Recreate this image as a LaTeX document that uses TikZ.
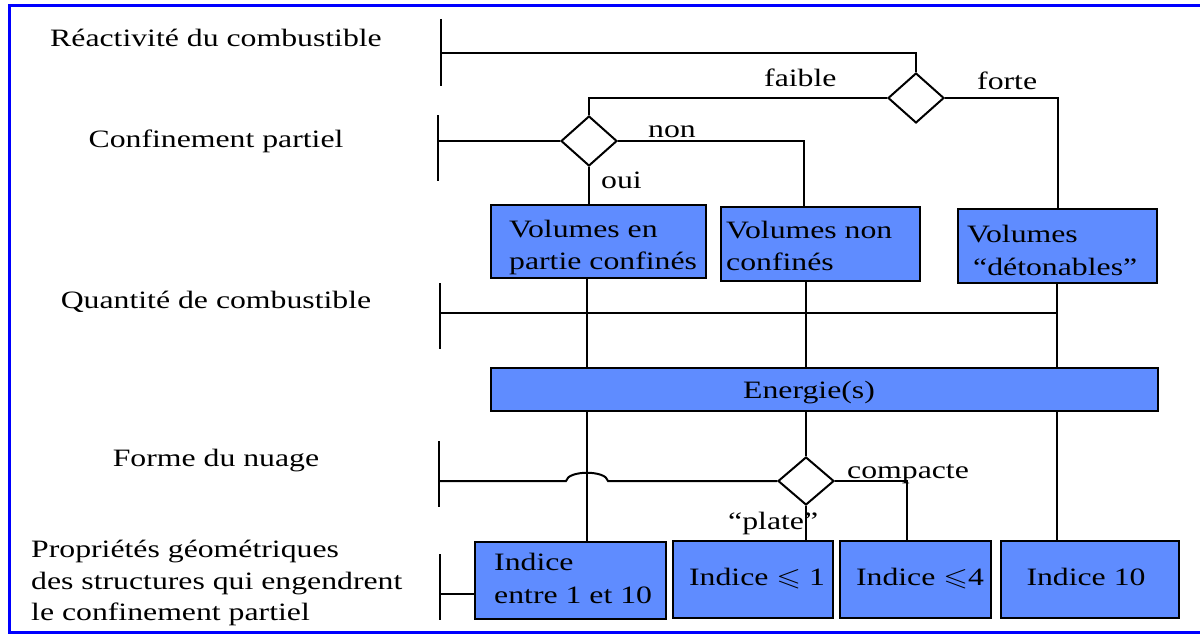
\documentclass[tikz,border=0pt]{standalone}
\usepackage{amssymb}
\usepackage{graphicx}
\usepackage{fontspec}
\setmainfont{Liberation Serif}
\usetikzlibrary{shapes.geometric}
\definecolor{boxblue}{RGB}{95,140,255}
\definecolor{frameblue}{RGB}{0,0,255}
% text set a little wider than the font's natural width
\newcommand{\wtxt}[1]{\scalebox{1.27}[1]{#1}}

\begin{document}
\begin{tikzpicture}[x=1pt,y=-1pt,
  txt/.style={inner sep=0pt, font=\fontsize{25}{32}\selectfont},
  lt/.style={txt, anchor=base west},
  ct/.style={txt, anchor=base},
  box/.style={draw, line width=2.2pt, fill=boxblue, inner sep=0pt},
  choice/.style={diamond, draw, line width=2pt, fill=white, inner sep=0pt,
                 minimum width=56pt, minimum height=50pt},
  link/.style={line width=2pt},
  tick/.style={line width=2pt}]
\useasboundingbox (0,0) rectangle (1200,634);

% outer frame
\draw[frameblue, line width=3pt] (1210,6) -- (9,6) -- (9,632) -- (1210,632);

% row headings
\node[ct] (hR) at (216,47)  {\wtxt{Réactivité du combustible}};
\node[ct] (hC) at (216,147) {\wtxt{Confinement partiel}};
\node[ct] (hQ) at (216,308) {\wtxt{Quantité de combustible}};
\node[ct] (hF) at (216,466) {\wtxt{Forme du nuage}};
\node[lt] (hP1) at (31,557) {\wtxt{Propriétés géométriques}};
\node[lt] (hP2) at (31,589) {\wtxt{des structures qui engendrent}};
\node[lt] (hP3) at (31,620) {\wtxt{le confinement partiel}};

% row bars
\draw[tick] (441,19) -- (441,86);
\draw[tick] (438,115) -- (438,181);
\draw[tick] (440,283) -- (440,349);
\draw[tick] (439,441) -- (439,507);
\draw[tick] (440,554) -- (440,620);
\coordinate (r0) at (441,53);
\coordinate (c0) at (438,141);
\coordinate (q0) at (440,313);
\coordinate (f0) at (439,481);
\coordinate (p0) at (440,594);

% trunk columns
\coordinate (qA) at (587,313);
\coordinate (qB) at (806,313);
\coordinate (qC) at (1057,313);

% decisions
\node[choice] (d1) at (916,98) {};
\node[choice] (d2) at (589,141) {};
\node[choice, minimum height=48pt] (d3) at (806,481) {};

% boxes
\node[box, minimum width=215pt, minimum height=73pt] (vp) at (598.5,241.5) {};
\node[box, minimum width=199pt, minimum height=74pt] (vn) at (820.5,244) {};
\node[box, minimum width=199pt, minimum height=74pt] (vd) at (1057.5,246) {};
\node[box, minimum width=667pt, minimum height=43pt] (en) at (824.5,389.5) {};
\node[box, minimum width=191pt, minimum height=77pt] (i1) at (570.5,580.5) {};
\node[box, minimum width=160pt, minimum height=77pt] (i2) at (753,579.5) {};
\node[box, minimum width=151pt, minimum height=77pt] (i3) at (915.5,579.5) {};
\node[box, minimum width=178pt, minimum height=77pt] (i4) at (1090,579.5) {};

% box texts
\node[lt] (tvp1) at (509,237) {\wtxt{Volumes en}};
\node[lt] (tvp2) at (509,269) {\wtxt{partie confinés}};
\node[lt] (tvn1) at (726,238) {\wtxt{Volumes non}};
\node[lt] (tvn2) at (726,270) {\wtxt{confinés}};
\node[lt] (tvd1) at (967,242) {\wtxt{Volumes}};
\node[lt] (tvd2) at (973,275) {\wtxt{“détonables”}};
\node[ct] (ten) at (809,398) {\wtxt{Energie(s)}};
\node[lt] (ti1a) at (494,570) {\wtxt{Indice}};
\node[lt] (ti1b) at (494,603) {\wtxt{entre 1 et 10}};
\node[ct] (ti2) at (757,585) {\wtxt{Indice $\leqslant$ 1}};
\node[ct] (ti3) at (920,585) {\wtxt{Indice $\leqslant$4}};
\node[ct] (ti4) at (1086,585) {\wtxt{Indice 10}};

% branch labels
\node[lt] (lfa) at (764,86)  {\wtxt{faible}};
\node[lt] (lfo) at (977,89)  {\wtxt{forte}};
\node[lt] (lno) at (648,137) {\wtxt{non}};
\node[lt] (lou) at (601,188) {\wtxt{oui}};
\node[lt] (lco) at (847,478) {\wtxt{compacte}};
\node[lt] (lpl) at (728,529) {\wtxt{“plate”}};

% connectors
\draw[link] (r0) -| (d1.north);
\draw[link] (d1.west) -| (d2.north);
\draw[link] (d1.east) -| (vd.north);
\draw[link] (c0) -- (d2.west);
\draw[link] (d2.south) -- (d2.south |- vp.north);
\draw[link] (d2.east) -| ([xshift=-16.5pt]vn.north);
\draw[link] (q0) -- (qC);
\draw[link] (vp.south -| qA) -- (en.north -| qA);
\draw[link] (vn.south -| qB) -- (en.north -| qB);
\draw[link] (vd.south -| qC) -- (en.north -| qC);
\draw[link] (en.south -| qA) -- (i1.north -| qA);
\draw[link] (en.south -| qB) -- (d3.north);
\draw[link] (en.south -| qC) -- (i4.north -| qC);
\draw[link] (f0) -- (566,481) .. controls (568,470) and (606,470) .. (608,481) -- (d3.west);
\draw[link] (d3.south) -- (d3.south |- i2.north);
\draw[link] (d3.east) -| ([xshift=-8.5pt]i3.north);
\draw[link] (p0) -- (p0 -| i1.west);
\end{tikzpicture}
\end{document}
